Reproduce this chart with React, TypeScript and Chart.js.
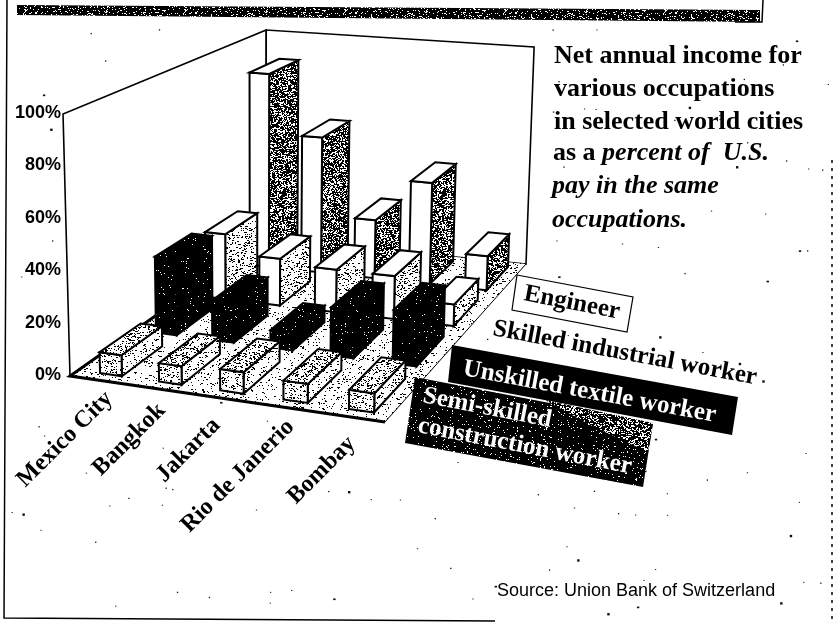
import React, { useEffect, useRef } from "react";
import { Chart, registerables } from "chart.js";

Chart.register(...registerables);

const cities = ["Mexico City", "Bangkok", "Jakarta", "Rio de Janerio", "Bombay"];
const percentTicks = [0, 20, 40, 60, 80, 100];
const engineer = [88, 61, 26, 45, 15];
const skilled = [28, 20, 18, 18, 9];
const unskilled = [31, 16, 7, 19, 21];
const semiSkilled = [8, 7, 8, 7, 7];
const seriesNames = ["Engineer", "Skilled industrial worker", "Unskilled textile worker", "Semi-skilled construction worker"];
const captionLines = ["Net annual income for", "various occupations", "in selected world cities"];
const captionItalicLines = ["pay in the same", "occupations."];
const sourceNote = "Source: Union Bank of Switzerland";

const SERIF = '"Liberation Serif", serif';
const SANS = '"Liberation Sans", sans-serif';

function stipple(density: number, ink = "#000", paper = "#fff", size = 160) {
  const c = document.createElement("canvas");
  c.width = size;
  c.height = size;
  const g = c.getContext("2d")!;
  g.fillStyle = paper;
  g.fillRect(0, 0, size, size);
  g.fillStyle = ink;
  let seed = Math.round(density * 1000) + 77;
  const next = () => {
    seed = (seed * 1664525 + 1013904223) >>> 0;
    return seed / 4294967296;
  };
  for (let y = 0; y < size; y++) {
    for (let x = 0; x < size; x++) {
      if (next() < density) g.fillRect(x, y, next() < 0.3 ? 2 : 1, 1);
    }
  }
  return g.createPattern(c, "repeat")!;
}

const threeD = {
  id: "threeD",
  beforeDatasetsDraw(chart: any) {
    const { ctx, chartArea, scales } = chart;
    const xs = scales.x;
    const ys = scales.y;
    const L = chartArea.left;
    const W = chartArea.right - chartArea.left;

    // floor homography from the unit square (front-left is the chart area corner)
    const x0 = L, y0 = chartArea.bottom + 1, x1 = chartArea.right, y1 = 422, x2 = 526, y2 = 264, x3 = 266, y3 = 238;
    const dx1 = x1 - x2, dx2 = x3 - x2, sx = x0 - x1 + x2 - x3;
    const dy1 = y1 - y2, dy2 = y3 - y2, sy = y0 - y1 + y2 - y3;
    const det = dx1 * dy2 - dx2 * dy1;
    const g = (sx * dy2 - dx2 * sy) / det;
    const h = (dx1 * sy - sx * dy1) / det;
    const a = x1 - x0 + g * x1, b = x3 - x0 + h * x3;
    const d = y1 - y0 + g * y1, e = y3 - y0 + h * y3;
    const H0 = ys.getPixelForValue(0) - ys.getPixelForValue(100);
    const invB = 1 / 217 - 1 / 208;
    const invC = 1 / 208 - 1 / 262;

    const proj = (u: number, v: number, val: number) => {
      const w = g * u + h * v + 1;
      const bx = (a * u + b * v + x0) / w;
      const by = (d * u + e * v + y0) / w;
      const full = 1 / (1 / H0 + invB * u + invC * v);
      const hp = ((ys.getPixelForValue(0) - ys.getPixelForValue(val)) / H0) * full;
      return [bx + ((bx - 258) * hp) / (7434 - by), by - hp] as const;
    };

    const poly = (pts: readonly (readonly [number, number])[], fill: any, lw = 2, stroke = "#000") => {
      ctx.beginPath();
      pts.forEach((p, i) => (i ? ctx.lineTo(p[0], p[1]) : ctx.moveTo(p[0], p[1])));
      ctx.closePath();
      if (fill) {
        ctx.fillStyle = fill;
        ctx.fill();
      }
      if (lw) {
        ctx.lineWidth = lw;
        ctx.strokeStyle = stroke;
        ctx.stroke();
      }
    };

    ctx.save();
    ctx.lineJoin = "miter";

    // paper specks
    let seed = 4242;
    const rnd = () => {
      seed = (seed * 1664525 + 1013904223) >>> 0;
      return seed / 4294967296;
    };
    ctx.fillStyle = "#111";
    for (let i = 0; i < 190; i++) {
      const px = 10 + rnd() * 820, py = 24 + rnd() * 590, s = rnd() < 0.25 ? 2.4 : 1.3;
      ctx.fillRect(px, py, s, s * (rnd() < 0.5 ? 1 : 0.7));
    }

    // scan frame
    poly([[17, 5], [760, 10], [760, 22], [17, 15]], stipple(0.82), 0);
    ctx.strokeStyle = "#000";
    ctx.lineWidth = 1.5;
    ctx.beginPath();
    ctx.moveTo(7, 0);
    ctx.lineTo(4, 618);
    ctx.lineTo(495, 621);
    ctx.moveTo(763, 0);
    ctx.lineTo(762, 22);
    ctx.lineTo(735, 22);
    ctx.stroke();
    ctx.setLineDash([3, 5]);
    ctx.beginPath();
    ctx.moveTo(832, 160);
    ctx.lineTo(832, 624);
    ctx.stroke();
    ctx.setLineDash([]);

    // walls and floor
    poly([proj(0, 0, 0), proj(0, 1, 0), proj(0, 1, 100), proj(0, 0, 100)], "#fff", 1.6);
    poly([proj(0, 1, 0), proj(1, 1, 0), proj(1, 1, 100), proj(0, 1, 100)], "#fff", 1.6);
    poly([proj(0, 0, 0), proj(1, 0, 0), proj(1, 1, 0), proj(0, 1, 0)], stipple(0.07), 0);
    ctx.lineWidth = 3;
    ctx.strokeStyle = "#000";
    ctx.beginPath();
    ctx.moveTo(...proj(0, 1, 0));
    ctx.lineTo(...proj(0, 0, 0));
    ctx.lineTo(...proj(1, 0, 0));
    ctx.stroke();
    ctx.lineWidth = 1;
    ctx.beginPath();
    ctx.moveTo(...proj(1, 0, 0));
    ctx.lineTo(...proj(1, 1, 0));
    ctx.stroke();

    // boxes, back row to front row
    const face = [
      { front: "#fff", side: stipple(0.55), top: "#fff" },
      { front: "#fff", side: stipple(0.15), top: "#fff" },
      { front: stipple(0.97), side: stipple(0.97), top: stipple(0.97) },
      { front: stipple(0.13), side: stipple(0.09), top: stipple(0.22) },
    ];
    const nRows = chart.data.datasets.length;
    chart.data.datasets.forEach((ds: any, di: number) => {
      const vc = (nRows - 1 - di + 0.5) / nRows;
      const v0 = vc - 0.09, v1 = vc + 0.09;
      ds.data.forEach((val: number, i: number) => {
        const uc = (xs.getPixelForValue(i) - L) / W + 0.012;
        const u0 = uc - 0.0375, u1 = uc + 0.0375;
        const f = face[di];
        poly([proj(u1, v0, 0), proj(u1, v1, 0), proj(u1, v1, val), proj(u1, v0, val)], f.side);
        poly([proj(u0, v0, 0), proj(u1, v0, 0), proj(u1, v0, val), proj(u0, v0, val)], f.front);
        poly([proj(u0, v0, val), proj(u1, v0, val), proj(u1, v1, val), proj(u0, v1, val)], f.top);
      });
    });

    // city labels along the floor's front edge
    const nudgeX = [10, 3, -4, 6, 1];
    const nudgeY = [15, 18, 24, 16, 23];
    ctx.fillStyle = "#000";
    ctx.font = `bold 24px ${SERIF}`;
    ctx.textAlign = "right";
    ctx.textBaseline = "middle";
    cities.forEach((name, i) => {
      const u = (xs.getPixelForValue(i) - L) / W;
      const p = proj(u, 0, 0);
      ctx.save();
      ctx.translate(p[0] + nudgeX[i], p[1] + nudgeY[i]);
      ctx.rotate(-Math.PI / 4);
      ctx.fillText(name, 0, 0);
      ctx.restore();
    });

    // caption
    ctx.textAlign = "left";
    ctx.textBaseline = "alphabetic";
    ctx.font = `bold 26px ${SERIF}`;
    captionLines.forEach((t, i) => ctx.fillText(t, 554, 63 + i * 33));
    ctx.fillText("as a ", 553, 160);
    const asW = ctx.measureText("as a ").width;
    ctx.font = `italic bold 26px ${SERIF}`;
    ctx.fillText("percent of  U.S.", 553 + asW, 160);
    captionItalicLines.forEach((t, i) => ctx.fillText(t, 552, 193 + i * 34));

    // source
    ctx.font = `18px ${SANS}`;
    ctx.fillText(sourceNote, 497, 596);

    // legend, tilted along the floor
    const tilt = (deg: number, ox: number, oy: number, fn: () => void) => {
      ctx.save();
      ctx.translate(ox, oy);
      ctx.rotate((deg * Math.PI) / 180);
      fn();
      ctx.restore();
    };
    poly([[517, 275], [633, 297], [627, 332], [512, 310]], "#fff", 1.2);
    poly([[452, 345], [738, 397], [732, 435], [448, 382]], "#000", 0);
    poly([[415, 377], [653, 423], [643, 487], [405, 443]], stipple(0.94), 0);
    poly([[545, 400], [653, 423], [648, 452], [590, 425]], stipple(0.6), 0);

    ctx.font = `bold 25px ${SERIF}`;
    ctx.fillStyle = "#000";
    tilt(11, 523, 300, () => ctx.fillText(seriesNames[0], 0, 0));
    tilt(10.6, 492, 335, () => ctx.fillText(seriesNames[1], 0, 0));
    ctx.fillStyle = "#fff";
    tilt(10.5, 462, 375, () => ctx.fillText(seriesNames[2], 0, 0));
    const semi = seriesNames[3].split(" ");
    tilt(11, 422, 402, () => ctx.fillText(semi[0], 0, 0));
    tilt(11, 417, 432, () => ctx.fillText(semi.slice(1).join(" "), 0, 0));

    ctx.restore();
  },
};

export default function App() {
  const ref = useRef<HTMLCanvasElement>(null);
  useEffect(() => {
    const chart = new Chart(ref.current!, {
      type: "bar",
      data: {
        labels: cities,
        datasets: [engineer, skilled, unskilled, semiSkilled].map((data, i) => ({
          label: seriesNames[i],
          data,
          backgroundColor: "rgba(0,0,0,0)",
          borderWidth: 0,
        })),
      },
      options: {
        responsive: false,
        animation: false,
        layout: { padding: { left: 0, top: 113, right: 449, bottom: 249 } },
        plugins: { legend: { display: false }, tooltip: { enabled: false }, title: { display: false } },
        scales: {
          x: { display: false },
          y: {
            min: 0,
            max: 100,
            afterBuildTicks: (s: any) => {
              s.ticks = percentTicks.map((value) => ({ value }));
            },
            afterFit: (s: any) => {
              s.width = 70;
            },
            border: { display: false },
            grid: { display: false, drawTicks: false },
            ticks: {
              padding: 9,
              color: "#000",
              font: { family: "Liberation Sans", size: 18, weight: "bold" },
              callback: (v: any) => `${v}%`,
            },
          },
        },
      },
      plugins: [threeD],
    } as any);
    return () => chart.destroy();
  }, []);
  return (
    <div style={{ position: "absolute", left: 0, top: 0, width: 834, height: 624, background: "#fff" }}>
      <canvas ref={ref} width={834} height={624} style={{ display: "block" }} />
    </div>
  );
}
